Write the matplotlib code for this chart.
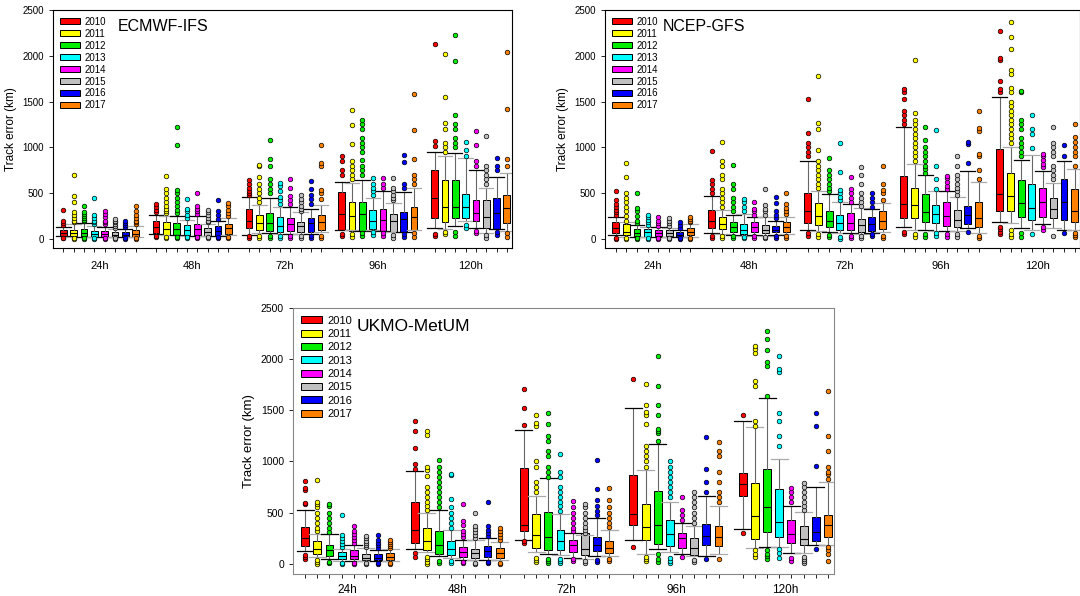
import matplotlib
matplotlib.use("Agg")
import matplotlib.pyplot as plt
from matplotlib.patches import Patch
import numpy as np

plt.rcParams["font.family"] = ["Liberation Sans", "DejaVu Sans"]

years = ["2010", "2011", "2012", "2013", "2014", "2015", "2016", "2017"]
leads = ["24h", "48h", "72h", "96h", "120h"]
year_colors = ["#FF0000", "#FFFF00", "#00EE00", "#00FFFF",
               "#FF00FF", "#C0C0C0", "#0000FF", "#FF7F00"]

# ---- ECMWF-IFS (rows: lead time, cols: year) ----
ecmwf_q1 = [[30, 30, 30, 25, 25, 20, 20, 25],
            [60, 40, 40, 40, 40, 30, 35, 50],
            [120, 100, 90, 80, 90, 70, 80, 100],
            [100, 90, 90, 110, 90, 80, 80, 100],
            [230, 180, 230, 230, 190, 120, 110, 170]]
ecmwf_med = [[60, 60, 60, 55, 50, 45, 45, 55],
             [130, 110, 110, 100, 110, 80, 90, 120],
             [200, 170, 170, 140, 160, 140, 170, 180],
             [270, 250, 270, 200, 210, 200, 220, 240],
             [450, 350, 350, 350, 280, 240, 280, 340]]
ecmwf_q3 = [[95, 100, 105, 90, 90, 80, 80, 100],
            [190, 180, 170, 150, 165, 120, 140, 160],
            [325, 260, 280, 240, 230, 180, 230, 260],
            [510, 400, 400, 320, 330, 270, 290, 350],
            [750, 640, 640, 490, 420, 420, 450, 480]]
ecmwf_lo = [[30, 25, 25, 20, 20, 20, 20, 25],
            [50, 40, 40, 35, 35, 30, 30, 40],
            [45, 60, 60, 55, 55, 50, 50, 70],
            [100, 95, 90, 100, 90, 80, 80, 100],
            [120, 110, 140, 190, 120, 60, 110, 90]]
ecmwf_hi = [[130, 165, 170, 140, 130, 110, 110, 140],
            [262, 250, 245, 210, 250, 160, 190, 230],
            [460, 370, 450, 350, 350, 290, 330, 370],
            [620, 605, 640, 450, 520, 390, 510, 560],
            [950, 910, 940, 880, 750, 560, 680, 720]]
ecmwf_fliers = [
    [[5, 10, 150, 170, 190, 310], [0, 5, 180, 200, 230, 260, 290, 400, 470, 700],
     [0, 5, 190, 210, 230, 250, 270, 290, 360], [0, 5, 160, 180, 200, 230, 260, 450],
     [0, 5, 160, 180, 200, 240, 270, 300], [0, 5, 120, 140, 160, 180, 200, 220],
     [0, 5, 130, 150, 170, 190], [0, 5, 160, 180, 200, 230, 260, 300, 360]],
    [[20, 30, 290, 320, 350, 380], [5, 15, 280, 300, 330, 360, 400, 450, 500, 550, 690],
     [5, 15, 280, 320, 360, 400, 450, 500, 530, 1020, 1220], [5, 15, 230, 260, 300, 330, 440],
     [5, 15, 270, 300, 330, 360, 500], [5, 15, 180, 200, 230, 260, 290, 310],
     [5, 15, 220, 260, 300, 420], [5, 15, 250, 280, 320, 360, 390]],
    [[10, 30, 480, 500, 520, 560, 600, 640], [10, 30, 400, 450, 500, 550, 600, 680, 800, 810],
     [10, 30, 500, 550, 600, 650, 800, 870, 1080], [10, 30, 380, 420, 460, 520, 580, 610],
     [10, 30, 380, 420, 470, 560, 650], [10, 30, 300, 330, 360, 400, 440, 480],
     [10, 30, 380, 430, 480, 550, 630], [10, 30, 430, 500, 530, 800, 830, 1020]],
    [[30, 50, 700, 750, 850, 910], [20, 50, 650, 700, 750, 800, 850, 1040, 1240, 1410],
     [30, 60, 700, 750, 800, 860, 950, 1000, 1050, 1100, 1200, 1250, 1300],
     [40, 70, 480, 520, 560, 600, 660], [30, 60, 560, 600, 660],
     [10, 40, 420, 450, 480, 520, 560, 660], [20, 50, 560, 600, 840, 920],
     [20, 60, 600, 650, 700, 870, 1190, 1580]],
    [[30, 50, 1010, 1070, 2130], [50, 80, 950, 1000, 1050, 1200, 1270, 1550, 2020],
     [30, 80, 1000, 1050, 1100, 1200, 1250, 1350, 1940, 2230], [120, 150, 900, 970, 1060],
     [60, 90, 800, 850, 1030, 1180], [10, 40, 600, 650, 700, 750, 800, 1120],
     [40, 80, 750, 800, 880], [20, 60, 800, 870, 1420, 2040]],
]

# ---- NCEP-GFS ----
ncep_q1 = [[60, 40, 30, 25, 30, 30, 20, 40],
           [120, 110, 80, 50, 80, 60, 70, 80],
           [170, 150, 130, 100, 100, 80, 90, 110],
           [225, 225, 180, 170, 140, 130, 160, 130],
           [309, 309, 237, 207, 244, 226, 207, 182]]
ncep_med = [[115, 80, 60, 70, 60, 65, 40, 80],
            [200, 160, 130, 100, 130, 100, 100, 130],
            [305, 250, 200, 170, 170, 150, 160, 190],
            [378, 370, 290, 270, 250, 210, 260, 230],
            [491, 470, 397, 335, 407, 331, 400, 309]]
ncep_q3 = [[180, 160, 110, 110, 100, 100, 70, 120],
           [320, 240, 180, 160, 180, 150, 140, 180],
           [500, 390, 300, 260, 280, 220, 240, 300],
           [690, 553, 490, 370, 400, 320, 360, 400],
           [979, 724, 644, 600, 560, 444, 659, 546]]
ncep_lo = [[40, 25, 20, 15, 20, 20, 15, 20],
           [60, 50, 40, 30, 40, 30, 40, 50],
           [100, 90, 70, 60, 60, 50, 60, 70],
           [130, 100, 100, 90, 90, 90, 120, 60],
           [182, 171, 116, 98, 164, 116, 98, 98]]
ncep_hi = [[237, 185, 150, 130, 125, 120, 100, 160],
           [470, 320, 260, 270, 240, 240, 200, 240],
           [850, 520, 490, 400, 380, 340, 330, 390],
           [1220, 815, 700, 520, 520, 460, 740, 620],
           [1547, 1000, 862, 913, 739, 615, 855, 768]]
ncep_fliers = [
    [[0, 10, 260, 290, 320, 350, 380, 420, 520],
     [0, 10, 200, 250, 300, 350, 400, 450, 500, 680, 830],
     [0, 10, 170, 200, 250, 300, 340, 500], [0, 10, 150, 180, 210, 240, 260],
     [0, 10, 140, 170, 200, 240], [0, 10, 140, 170, 200, 230],
     [0, 10, 120, 150, 180], [0, 10, 180, 200, 220, 240]],
    [[10, 30, 500, 550, 600, 640, 960],
     [10, 30, 350, 400, 450, 500, 550, 650, 700, 800, 850, 1060],
     [10, 30, 300, 350, 400, 450, 550, 600, 810], [5, 20, 300, 350, 400, 430],
     [10, 30, 260, 300, 330, 400], [5, 20, 260, 300, 330, 370, 540],
     [10, 30, 230, 260, 300, 390, 460], [10, 30, 270, 300, 340, 380, 500]],
    [[30, 60, 900, 950, 1000, 1050, 1160, 1530],
     [20, 50, 560, 600, 650, 700, 750, 800, 850, 970, 1200, 1270, 1780],
     [20, 40, 520, 560, 600, 650, 700, 750, 880], [0, 20, 420, 460, 500, 530, 730, 1050],
     [10, 30, 400, 450, 500, 550, 680], [10, 30, 360, 400, 450, 500, 600, 700, 780],
     [30, 50, 350, 400, 450, 500], [10, 30, 420, 500, 530, 600, 800]],
    [[50, 80, 1250, 1300, 1350, 1400, 1530, 1600, 1640],
     [20, 50, 850, 900, 950, 1000, 1050, 1100, 1150, 1200, 1250, 1300, 1370, 1950],
     [20, 50, 720, 760, 800, 850, 900, 950, 1000, 1080, 1220],
     [30, 60, 550, 650, 800, 1190], [20, 50, 540, 580, 620, 660, 690],
     [20, 50, 480, 520, 560, 600, 650, 700, 800, 900], [80, 830, 1040, 1060],
     [10, 30, 650, 750, 900, 930, 1180, 1210, 1400]],
    [[50, 80, 110, 130, 1600, 1640, 1720, 1950, 1980, 2270],
     [20, 50, 100, 1050, 1100, 1150, 1200, 1250, 1300, 1350, 1400, 1450, 1500,
      1600, 1650, 1800, 1840, 2070, 2210, 2370],
     [20, 60, 900, 950, 1000, 1050, 1100, 1200, 1250, 1300, 1600, 1620],
     [50, 990, 1150, 1200, 1350], [100, 130, 780, 820, 860, 900, 930],
     [30, 650, 700, 750, 800, 900, 950, 1000, 1050, 1220], [60, 910, 1020],
     [20, 40, 60, 800, 900, 950, 1000, 1060, 1110, 1260]],
]

# ---- UKMO-MetUM ----
ukmo_q1 = [[172, 97, 75, 42, 42, 32, 32, 36],
           [205, 130, 91, 88, 68, 58, 68, 55],
           [318, 153, 136, 133, 114, 81, 127, 107],
           [383, 230, 195, 172, 156, 81, 179, 172],
           [659, 244, 312, 263, 205, 179, 224, 263]]
ukmo_med = [[247, 146, 133, 75, 75, 58, 58, 65],
            [328, 227, 188, 140, 114, 107, 123, 107],
            [383, 286, 266, 221, 179, 149, 188, 156],
            [487, 360, 380, 292, 250, 153, 276, 263],
            [782, 464, 555, 412, 295, 244, 308, 377]]
ukmo_q3 = [[357, 221, 188, 117, 130, 91, 97, 101],
           [600, 350, 318, 218, 166, 140, 172, 156],
           [935, 487, 503, 334, 237, 302, 263, 227],
           [870, 584, 708, 432, 302, 253, 393, 373],
           [883, 789, 925, 731, 432, 367, 458, 481]]
ukmo_lo = [[123, 68, 42, 30, 30, 25, 25, 25],
           [140, 114, 75, 60, 40, 40, 40, 35],
           [237, 114, 91, 88, 58, 50, 75, 75],
           [237, 97, 146, 114, 97, 75, 75, 100],
           [338, 156, 160, 166, 107, 107, 179, 179]]
ukmo_hi = [[526, 295, 292, 140, 188, 150, 130, 140],
           [903, 500, 523, 328, 237, 230, 247, 208],
           [1308, 666, 838, 487, 302, 280, 448, 334],
           [1520, 919, 1172, 604, 400, 373, 666, 568],
           [1396, 1338, 1617, 1023, 562, 503, 747, 796]]
ukmo_fliers = [
    [[50, 70, 90, 580, 590, 720, 740, 810],
     [0, 20, 40, 320, 350, 400, 450, 500, 550, 580, 600, 820],
     [10, 20, 310, 350, 400, 450, 500, 560, 580], [0, 10, 160, 190, 220, 250, 280, 480],
     [0, 10, 200, 230, 260, 290, 320, 370], [0, 10, 160, 180, 200, 220, 250, 270],
     [0, 10, 150, 180, 200, 230, 280], [0, 10, 150, 170, 190, 210, 230]],
    [[70, 110, 930, 980, 1130, 1300, 1400],
     [0, 20, 50, 70, 530, 560, 600, 650, 700, 750, 860, 920, 950, 1260, 1300],
     [10, 30, 550, 600, 650, 700, 750, 800, 850, 900, 950, 1010],
     [10, 30, 350, 400, 450, 500, 550, 630, 870, 880],
     [10, 20, 260, 290, 320, 380, 420, 580], [0, 10, 250, 280, 310, 340, 370, 500],
     [10, 20, 270, 300, 330, 370, 600], [0, 10, 230, 260, 290, 320, 350]],
    [[200, 220, 1360, 1520, 1710],
     [20, 40, 60, 700, 750, 800, 950, 1000, 1350, 1380, 1450],
     [10, 30, 50, 850, 900, 950, 1050, 1100, 1200, 1250, 1370, 1470],
     [10, 30, 50, 520, 560, 600, 650, 700, 750, 850, 900, 1070],
     [30, 50, 320, 350, 400, 450, 500, 550, 610],
     [10, 30, 300, 330, 360, 400, 450, 500, 550, 580],
     [20, 40, 480, 520, 560, 620, 730, 1010], [30, 50, 360, 400, 450, 500, 550, 620, 740]],
    [[166, 1805], [30, 50, 70, 950, 1000, 1050, 1100, 1150, 1370, 1450, 1480, 1550, 1760],
     [20, 50, 100, 1200, 1280, 1300, 1320, 1450, 1550, 1740, 2030],
     [10, 30, 60, 650, 700, 750, 800, 850, 900, 950, 1000], [70, 430, 480, 530, 650],
     [20, 40, 400, 450, 500, 550, 600, 650, 700], [50, 700, 800, 930, 1240],
     [50, 600, 650, 700, 800, 900, 1050, 1100, 1190]],
    [[300, 1450], [70, 100, 130, 1350, 1400, 1740, 1790, 2060, 2100, 2130],
     [50, 80, 100, 130, 1640, 1930, 1970, 2090, 2200, 2280],
     [60, 110, 140, 1150, 1250, 1400, 1470, 1870, 1900, 2030],
     [30, 60, 600, 650, 700, 740], [10, 30, 50, 70, 530, 560, 600, 650, 700, 750, 790],
     [140, 960, 1350, 1470], [30, 100, 130, 160, 830, 880, 900, 950, 1100, 1250, 1690]],
]


def draw_panel(ax, q1, med, q3, lo, hi, fliers, name, title_x, big=False):
    stats, pos = [], []
    for g in range(len(leads)):
        for j in range(len(years)):
            stats.append(dict(q1=q1[g][j], med=med[g][j], q3=q3[g][j],
                              whislo=lo[g][j], whishi=hi[g][j],
                              fliers=np.array(fliers[g][j], dtype=float)))
            pos.append(g * 9 + j)
    art = ax.bxp(stats, positions=pos, widths=0.65, patch_artist=True,
                 capwidths=1.4, showfliers=True,
                 boxprops=dict(edgecolor="black", linewidth=0.7),
                 medianprops=dict(color="black", linewidth=0.8),
                 whiskerprops=dict(color="#666666", linewidth=0.8),
                 capprops=dict(color="black", linewidth=0.9),
                 flierprops=dict(marker="o", markersize=3.3,
                                 markeredgecolor="black", markeredgewidth=0.5))
    for k, box in enumerate(art["boxes"]):
        c = year_colors[k % 8]
        box.set_facecolor(c)
        art["fliers"][k].set_markerfacecolor(c)
        if k % 2 == 1:
            art["caps"][2 * k].set_color("#AAAAAA")
            art["caps"][2 * k + 1].set_color("#AAAAAA")

    ax.set_xlim(-1.0, 43.5)
    ax.set_ylim(-100, 2500)
    ax.set_yticks(range(0, 2501, 500))
    ax.set_xticks(pos, minor=True)
    ax.set_xticks([g * 9 + 3.5 for g in range(len(leads))])
    ax.set_xticklabels(leads)
    ax.tick_params(axis="x", which="major", length=0,
                   labelsize=8.5 if big else 8, pad=7 if big else 9)
    ax.tick_params(axis="x", which="minor", length=3, width=0.6, direction="out")
    ax.tick_params(axis="y", labelsize=7.5 if big else 7, length=3, width=0.6)
    ax.set_ylabel("Track error (km)", fontsize=9.5 if big else 8.5)

    handles = [Patch(facecolor=c, edgecolor="black", linewidth=0.7) for c in year_colors]
    ax.legend(handles, years, loc="upper left", frameon=False,
              fontsize=8 if big else 7, handlelength=1.9 if big else 2.05,
              handleheight=0.55, labelspacing=0.3 if big else 0.2,
              handletextpad=0.5, borderaxespad=0.3, borderpad=0.4)
    ax.text(title_x, 0.93, name, transform=ax.transAxes,
            fontsize=12.5 if big else 11.5, va="center", ha="left")


fig = plt.figure(figsize=(10.8, 5.96), dpi=100)
fig.patch.set_facecolor("white")

ax1 = fig.add_axes([53 / 1080, 1 - 248 / 596, 459 / 1080, 238 / 596])
ax2 = fig.add_axes([605 / 1080, 1 - 248 / 596, 475 / 1080, 238 / 596])
ax3 = fig.add_axes([293 / 1080, 1 - 574 / 596, 541 / 1080, 266 / 596])

draw_panel(ax1, ecmwf_q1, ecmwf_med, ecmwf_q3, ecmwf_lo, ecmwf_hi, ecmwf_fliers,
           "ECMWF-IFS", 0.14)
draw_panel(ax2, ncep_q1, ncep_med, ncep_q3, ncep_lo, ncep_hi, ncep_fliers,
           "NCEP-GFS", 0.122)
draw_panel(ax3, ukmo_q1, ukmo_med, ukmo_q3, ukmo_lo, ukmo_hi, ukmo_fliers,
           "UKMO-MetUM", 0.118, big=True)

for sp in ax3.spines.values():
    sp.set_color("#888888")

fig.savefig("out.png", dpi=100)
